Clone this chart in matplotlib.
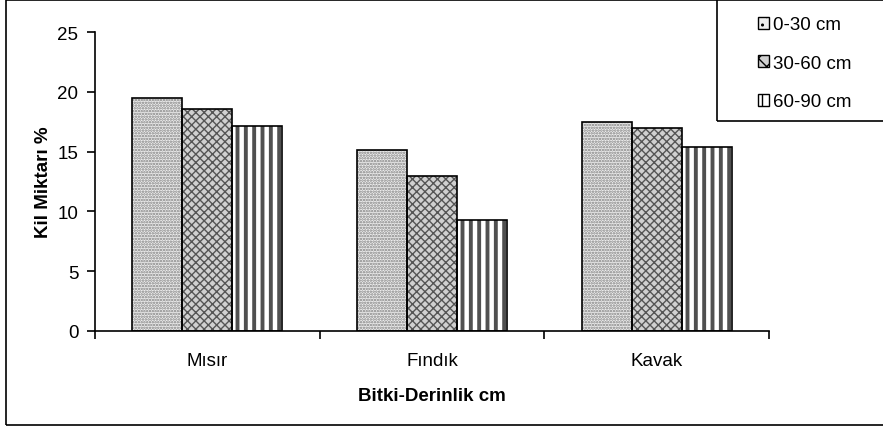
import matplotlib
matplotlib.use("Agg")
import matplotlib.pyplot as plt
from matplotlib.patches import Rectangle, Patch
import numpy as np

categories = ["Mısır", "Fındık", "Kavak"]
series_labels = ["0-30 cm", "30-60 cm", "60-90 cm"]
v_0_30 = [19.5, 15.1, 17.5]
v_30_60 = [18.6, 13.0, 17.0]
v_60_90 = [17.1, 9.3, 15.4]
yticks = [0, 5, 10, 15, 20, 25]

plt.rcParams['font.family'] = ['Liberation Sans', 'DejaVu Sans']
W, H = 883, 427
FS = 13.5
fig = plt.figure(figsize=(W / 100, H / 100), dpi=100)
ax = fig.add_axes([95 / W, 95 / H, 674 / W, 299 / H])

styles = [
    dict(hatch='......', fc='#eeeeee', hc='#808080', hlw=1.2),
    dict(hatch='xxxx', fc='#d0d0d0', hc='#555555', hlw=1.0),
    dict(hatch='||', fc='white', hc='#505050', hlw=2.8),
]
x = np.arange(len(categories))
w = 2 / 9
for i, (vals, st) in enumerate(zip([v_0_30, v_30_60, v_60_90], styles)):
    pos = x + (i - 1) * w
    with plt.rc_context({'hatch.linewidth': st['hlw']}):
        ax.bar(pos, vals, width=w, color=st['fc'], edgecolor=st['hc'],
               hatch=st['hatch'], linewidth=0, zorder=2)
    ax.bar(pos, vals, width=w, fill=False, edgecolor='black', linewidth=1.2, zorder=3)

ax.set_xlim(-0.5, len(categories) - 0.5)
ax.set_ylim(0, 25)
ax.set_yticks(yticks)
ax.set_xticks(np.arange(len(categories) + 1) - 0.5)
ax.set_xticklabels([])
ax.set_xticks(x, minor=True)
ax.set_xticklabels(categories, minor=True)
ax.tick_params(axis='x', which='minor', length=0, pad=15, labelsize=FS)
ax.tick_params(axis='x', which='major', length=6, width=1.2, direction='out')
ax.tick_params(axis='y', length=6, width=1.2, direction='out', labelsize=FS, pad=6)
for s in ['top', 'right']:
    ax.spines[s].set_visible(False)
for s in ['left', 'bottom']:
    ax.spines[s].set_linewidth(1.2)
ax.set_xlabel('Bitki-Derinlik cm', fontsize=FS, fontweight='bold', labelpad=13)
ax.set_ylabel('Kil Miktarı %', fontsize=FS, fontweight='bold', labelpad=4)

# outer frame
fig.patches.append(Rectangle((6 / W, 1 / H), 2, 425 / H, transform=fig.transFigure,
                             fill=False, edgecolor='black', linewidth=1.2))
# legend box
fig.patches.append(Rectangle((717 / W, (H - 122) / H), 2, 1, transform=fig.transFigure,
                             fill=False, edgecolor='black', linewidth=1.2, zorder=5))
handles = []
for lab, st in zip(series_labels, styles):
    handles.append(Patch(facecolor=st['fc'], edgecolor='black', hatch=st['hatch'][:2], label=lab))
leg = fig.legend(handles=handles, loc='upper left', bbox_to_anchor=(750 / W, 1 - 10 / H),
                 frameon=False, fontsize=FS, handlelength=0.6, handleheight=0.6,
                 handletextpad=0.25, labelspacing=1.14, borderaxespad=0)

fig.savefig('out.png', dpi=100)
